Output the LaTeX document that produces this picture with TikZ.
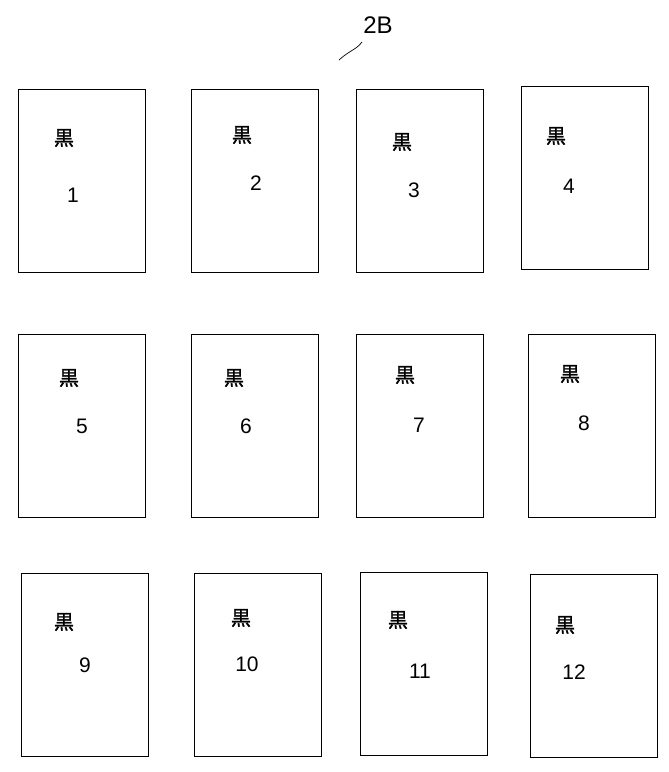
\documentclass[tikz,border=0pt]{standalone}
\usepackage{fontspec}
\setmainfont{Liberation Sans}
\newfontfamily\jpfont[FakeBold=1.5]{Noto Sans CJK JP}
\usepackage{tikz}
\usetikzlibrary{positioning}

\begin{document}
\begin{tikzpicture}[
  x=1pt, y=-1pt,
  sheet/.style={
    rectangle,
    draw,
    line width=0.8pt,
    minimum width=127pt,
    minimum height=183pt,
    inner sep=0pt,
  },
  kuro/.style={font=\jpfont\fontsize{20}{20}\selectfont, inner sep=0pt},
  num/.style={font=\fontsize{21}{21}\selectfont, inner sep=0pt},
]
\useasboundingbox (0,0) rectangle (669,772);

% --- reference label ---
\node[font=\fontsize{24}{24}\selectfont, inner sep=0pt] (ref) at (378,25) {2B};
\coordinate (refend) at (339,60);
\draw[line width=0.7pt] (refend) .. controls (350,50) and (356,50) .. (362,42);

% --- row 1 ---
\node[sheet] (sheet1) at (81.5,181) {};
\node[kuro] (kuro1) at (64,138) {黒};
\node[num] (num1) at (73,195) {1};

\node[sheet] (sheet2) at (255,181) {};
\node[kuro] (kuro2) at (242,135) {黒};
\node[num] (num2) at (256,183) {2};

\node[sheet] (sheet3) at (420,181) {};
\node[kuro] (kuro3) at (402,142) {黒};
\node[num] (num3) at (414,190) {3};

\node[sheet] (sheet4) at (585,178) {};
\node[kuro] (kuro4) at (556,136) {黒};
\node[num] (num4) at (569,186) {4};

% --- row 2 ---
\node[sheet] (sheet5) at (81.5,425.5) {};
\node[kuro] (kuro5) at (69,378) {黒};
\node[num] (num5) at (82,426) {5};

\node[sheet] (sheet6) at (255,425.5) {};
\node[kuro] (kuro6) at (234,378) {黒};
\node[num] (num6) at (246,426) {6};

\node[sheet] (sheet7) at (420,425.5) {};
\node[kuro] (kuro7) at (405,375) {黒};
\node[num] (num7) at (419,425) {7};

\node[sheet] (sheet8) at (591.5,425.5) {};
\node[kuro] (kuro8) at (570,374) {黒};
\node[num] (num8) at (584,423) {8};

% --- row 3 ---
\node[sheet] (sheet9) at (85,665) {};
\node[kuro] (kuro9) at (64,622) {黒};
\node[num] (num9) at (85,665) {9};

\node[sheet] (sheet10) at (257.5,665) {};
\node[kuro] (kuro10) at (241,618) {黒};
\node[num] (num10) at (247,664) {10};

\node[sheet] (sheet11) at (423.5,664) {};
\node[kuro] (kuro11) at (398,620) {黒};
\node[num] (num11) at (420,671) {11};

\node[sheet] (sheet12) at (593.5,666) {};
\node[kuro] (kuro12) at (565,625) {黒};
\node[num] (num12) at (574,672) {12};
\end{tikzpicture}
\end{document}
